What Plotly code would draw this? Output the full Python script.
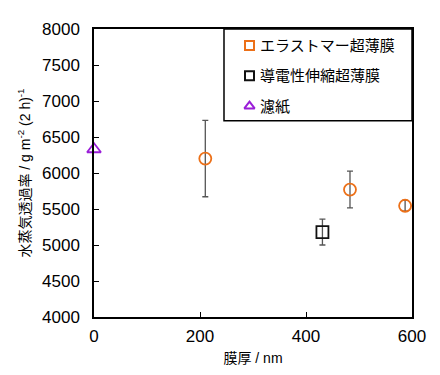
import plotly.graph_objects as go

# Data
elastomer_x = [210, 483, 587]
elastomer_y = [6200, 5770, 5545]
elastomer_err = [530, 255, 75]

conductive_x = [431]
conductive_y = [5180]
conductive_err = [180]

paper_x = [0]
paper_y = [6330]

names = ["エラストマー超薄膜", "導電性伸縮超薄膜", "濾紙"]
legend_symbols = ["square-open", "square-open", "triangle-up-open"]

ORANGE = "#EC7018"
BLACK = "#111111"
PURPLE = "#9A1ED8"
ERR = "#555555"
FONT = "Liberation Sans, Noto Sans CJK JP, sans-serif"
colors = [ORANGE, BLACK, PURPLE]

fig = go.Figure()

fig.add_trace(go.Scatter(
    x=elastomer_x, y=elastomer_y, mode="markers", name=names[0], showlegend=False,
    marker=dict(symbol="circle-open", size=12, color=ORANGE, line=dict(width=1.8, color=ORANGE)),
    error_y=dict(type="data", array=elastomer_err, color=ERR, thickness=1.3, width=3),
))
fig.add_trace(go.Scatter(
    x=conductive_x, y=conductive_y, mode="markers", name=names[1], showlegend=False,
    marker=dict(symbol="square-open", size=12, color=BLACK, line=dict(width=1.8, color=BLACK)),
    error_y=dict(type="data", array=conductive_err, color=ERR, thickness=1.3, width=3),
))
fig.add_trace(go.Scatter(
    x=paper_x, y=paper_y, mode="markers", name=names[2], showlegend=False, cliponaxis=False,
    marker=dict(symbol="triangle-up-open", size=12, color=PURPLE, line=dict(width=1.8, color=PURPLE)),
))

# legend box (shape + key markers on an overlay unit axis + text annotations)
fig.add_shape(type="rect", xref="paper", yref="paper", x0=0.4088, x1=1.0, y0=0.6814, y1=1.0,
              line=dict(color="black", width=1.5), fillcolor="white", layer="below")
legend_y = [0.9424, 0.8373, 0.7322]
key_x = 0.489
text_x = 0.5157
for nm, sym, col, ly in zip(names, legend_symbols, colors, legend_y):
    fig.add_trace(go.Scatter(
        x=[key_x], y=[ly], xaxis="x2", yaxis="y2", mode="markers", showlegend=False, hoverinfo="skip",
        marker=dict(symbol=sym, size=9, color=col, line=dict(width=2, color=col)),
    ))
    fig.add_annotation(
        xref="paper", yref="paper", x=text_x, y=ly, xanchor="left", yanchor="middle",
        showarrow=False, align="left", text=nm,
        font=dict(size=15, family=FONT, color="black"),
    )

fig.update_layout(
    width=440, height=375,
    margin=dict(l=86, r=36, t=14, b=66),
    paper_bgcolor="white", plot_bgcolor="white",
    font=dict(family=FONT, size=14, color="black"),
    showlegend=False,
    xaxis=dict(
        range=[0, 600], tickvals=[0, 200, 400, 600], showgrid=False, zeroline=False,
        showline=True, linecolor="black", linewidth=1.5, mirror=True,
        ticks="inside", ticklen=5, tickcolor="black",
        tickfont=dict(size=17), ticklabelstandoff=3,
        title=dict(text="膜厚 / nm", font=dict(size=14), standoff=8),
    ),
    yaxis=dict(
        range=[4000, 8000], dtick=500, showgrid=False, zeroline=False,
        showline=True, linecolor="black", linewidth=1.5, mirror=True,
        ticks="inside", ticklen=5, tickcolor="black",
        tickfont=dict(size=17), ticklabelstandoff=9,
        title=dict(text="水蒸気透過率 / g m<sup>-2</sup> (2 h)<sup>-1</sup>", font=dict(size=14), standoff=8),
    ),
    xaxis2=dict(range=[0, 1], overlaying="x", visible=False, fixedrange=True),
    yaxis2=dict(range=[0, 1], overlaying="y", visible=False, fixedrange=True),
)

fig.write_html("out.html")
